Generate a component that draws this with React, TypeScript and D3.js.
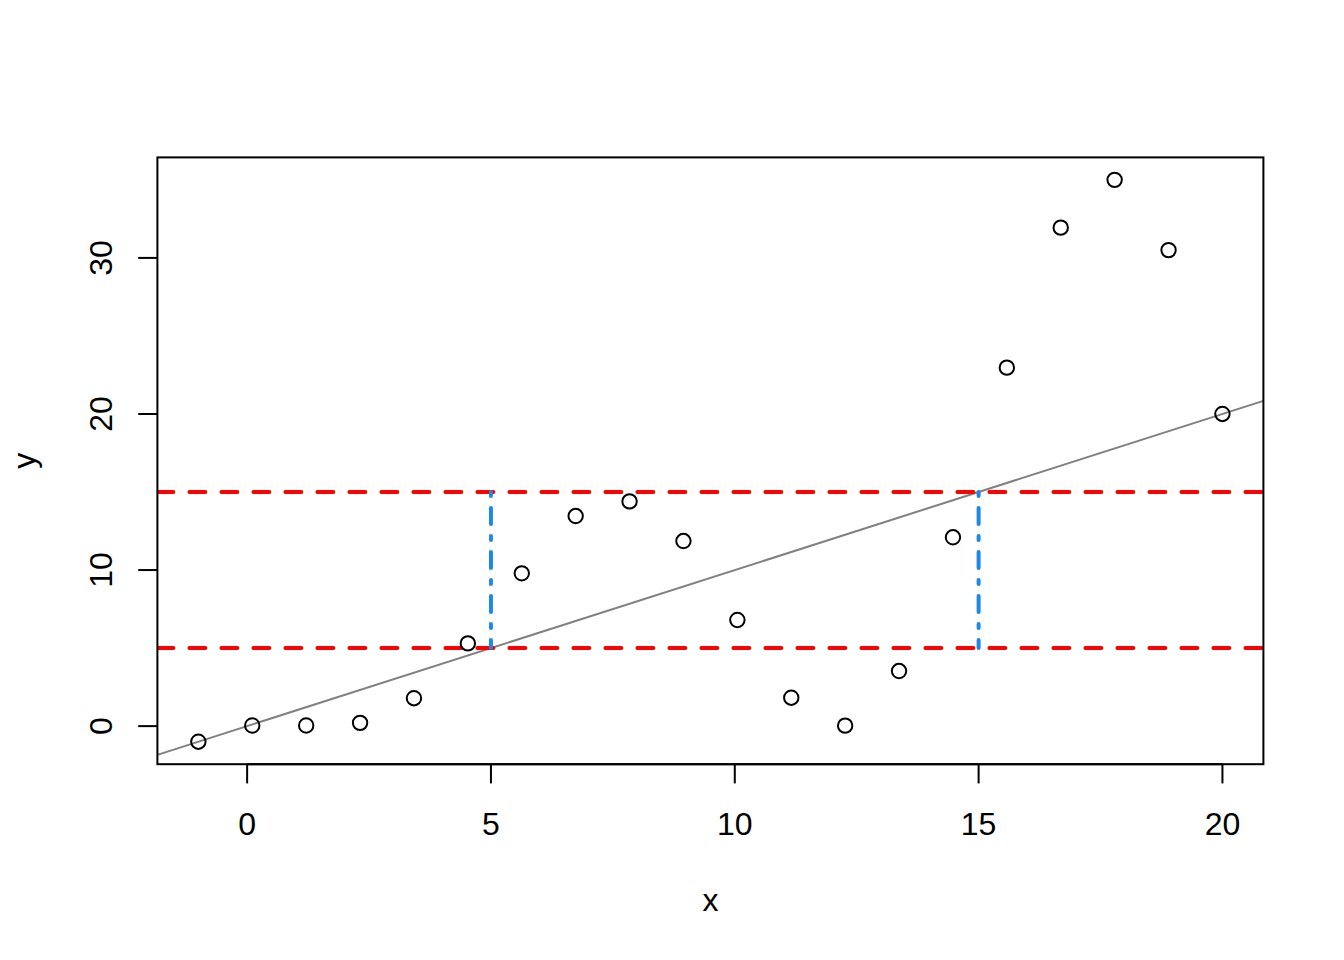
import React from "react";
import * as d3 from "d3";

const xValues = [-1, 0.105, 1.211, 2.316, 3.421, 4.526, 5.632, 6.737, 7.842, 8.947, 10.053, 11.158, 12.263, 13.368, 14.474, 15.579, 16.684, 17.789, 18.895, 20];
const yValues = [-1, 0.04, 0.04, 0.21, 1.79, 5.3, 9.79, 13.46, 14.4, 11.86, 6.8, 1.82, 0.03, 3.53, 12.1, 22.97, 31.94, 35.0, 30.5, 20.0];
const xTicks = [0, 5, 10, 15, 20];
const yTicks = [0, 10, 20, 30];
const hLines = [5, 15];
const vSegments = [
  { x: 5, y0: 15, y1: 5 },
  { x: 15, y0: 15, y1: 5 },
];
const refLine = { intercept: 0, slope: 1 };

const W = 1344;
const H = 960;
const left = 157.4;
const right = W - 80.6;
const top = 157.4;
const bottom = H - 195.8;
const font = "'Liberation Sans', Arial, Helvetica, sans-serif";

export default function App() {
  const xMin = d3.min(xValues)!;
  const xMax = d3.max(xValues)!;
  const yMin = d3.min(yValues)!;
  const yMax = d3.max(yValues)!;
  const xPad = (xMax - xMin) * 0.04;
  const yPad = (yMax - yMin) * 0.04;
  const xs = d3.scaleLinear().domain([xMin - xPad, xMax + xPad]).range([left, right]);
  const ys = d3.scaleLinear().domain([yMin - yPad, yMax + yPad]).range([bottom, top]);
  const [dx0, dx1] = xs.domain();

  const lineGen = d3.line<[number, number]>().x((d) => xs(d[0])).y((d) => ys(d[1]));
  const refPts: [number, number][] = [
    [dx0, refLine.intercept + refLine.slope * dx0],
    [dx1, refLine.intercept + refLine.slope * dx1],
  ];

  return (
    <svg width={W} height={H} style={{ position: "absolute", left: 0, top: 0, background: "#fff" }} fontFamily={font}>
      <rect x={0} y={0} width={W} height={H} fill="#fff" />
      <defs>
        <clipPath id="plotclip">
          <rect x={left} y={top} width={right - left} height={bottom - top} />
        </clipPath>
      </defs>
      <g clipPath="url(#plotclip)">
        <path d={lineGen(refPts) || ""} stroke="#808080" strokeWidth={2} fill="none" />
        {hLines.map((h) => (
          <line key={h} x1={xs(dx0)} x2={xs(dx1)} y1={ys(h)} y2={ys(h)} stroke="#FF0000" strokeWidth={4}
            strokeDasharray="16 16" strokeLinecap="round" />
        ))}
        {vSegments.map((s) => (
          <line key={s.x} x1={xs(s.x)} x2={xs(s.x)} y1={ys(s.y0)} y2={ys(s.y1)} stroke="#1E88E5" strokeWidth={4}
            strokeDasharray="4 12 16 12" strokeLinecap="round" />
        ))}
        {xValues.map((x, i) => (
          <circle key={i} cx={xs(x)} cy={ys(yValues[i])} r={7.2} fill="none" stroke="#000" strokeWidth={2} />
        ))}
      </g>
      <rect x={left} y={top} width={right - left} height={bottom - top} fill="none" stroke="#000" strokeWidth={2} />
      {/* x axis */}
      <line x1={xs(xTicks[0])} x2={xs(xTicks[xTicks.length - 1])} y1={bottom} y2={bottom} stroke="#000" strokeWidth={2} />
      {xTicks.map((t) => (
        <g key={t}>
          <line x1={xs(t)} x2={xs(t)} y1={bottom} y2={bottom + 19.2} stroke="#000" strokeWidth={2} />
          <text x={xs(t)} y={835} textAnchor="middle" fontSize={32} fill="#000">{t}</text>
        </g>
      ))}
      {/* y axis */}
      {yTicks.map((t) => (
        <g key={t}>
          <line x1={left} x2={left - 19.2} y1={ys(t)} y2={ys(t)} stroke="#000" strokeWidth={2} />
          <text transform={`translate(112,${ys(t)}) rotate(-90)`} textAnchor="middle" fontSize={32} fill="#000">{t}</text>
        </g>
      ))}
      <text x={(left + right) / 2} y={911} textAnchor="middle" fontSize={32} fill="#000">x</text>
      <text transform={`translate(35,${(top + bottom) / 2}) rotate(-90)`} textAnchor="middle" fontSize={32} fill="#000">y</text>
    </svg>
  );
}
